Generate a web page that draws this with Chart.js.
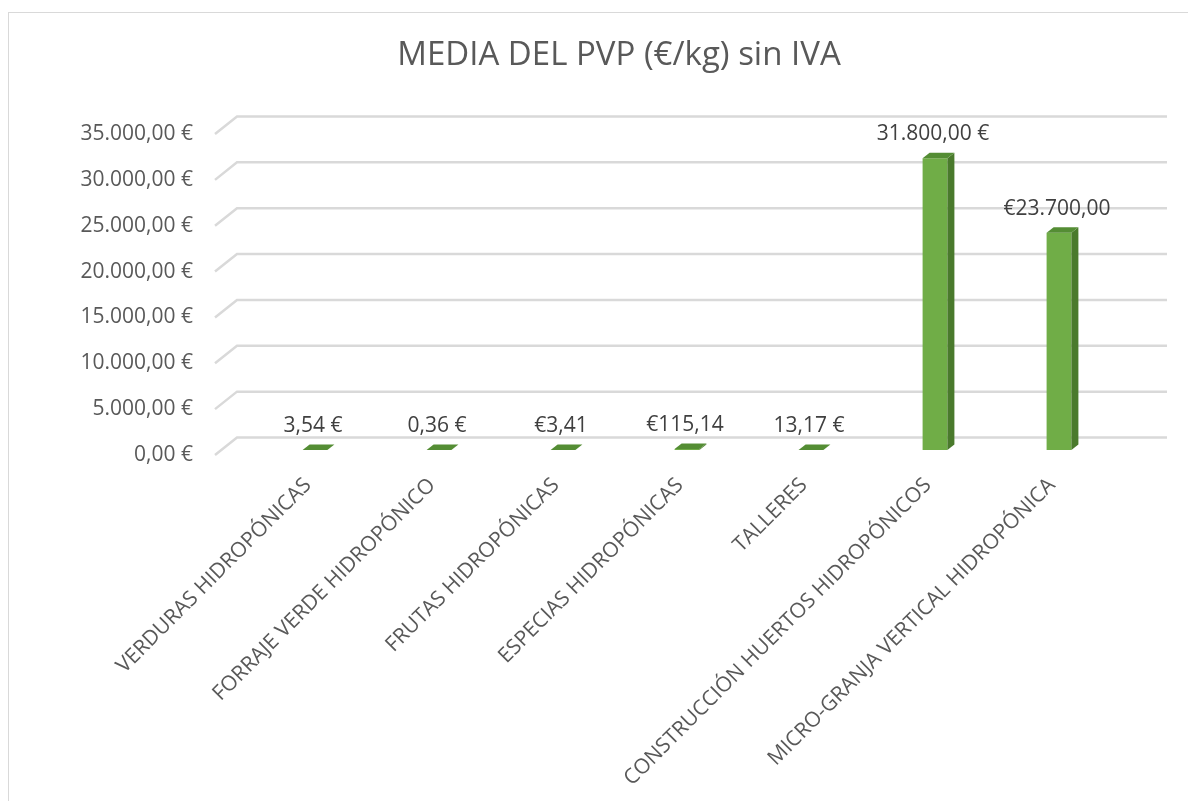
<!DOCTYPE html>
<html lang="es">
<head>
<meta charset="UTF-8">
<title>MEDIA DEL PVP (€/kg) sin IVA</title>
<style>
  body { margin: 0; background: #fff; }
  #marco { position: absolute; left: 8px; top: 12px; width: 1200px; height: 800px; border: 1px solid #d9d9d9; }
  #caja { position: absolute; left: 0; top: 0; width: 1188px; height: 801px; }
</style>
</head>
<body>
<div id="marco"></div>
<div id="caja"><canvas id="grafico"></canvas></div>

<script src="https://cdn.jsdelivr.net/npm/chart.js"></script>
<script>
// datos del gráfico
const categorias = ['VERDURAS HIDROPÓNICAS', 'FORRAJE VERDE HIDROPÓNICO', 'FRUTAS HIDROPÓNICAS',
  'ESPECIAS HIDROPÓNICAS', 'TALLERES', 'CONSTRUCCIÓN HUERTOS HIDROPÓNICOS', 'MICRO-GRANJA VERTICAL HIDROPÓNICA']
const valores = [3.54, 0.36, 3.41, 115.14, 13.17, 31800, 23700]
const etiquetasValor = ['3,54 €', '0,36 €', '€3,41', '€115,14', '13,17 €', '31.800,00 €', '€23.700,00']
const ticksY = ['0,00 €', '5.000,00 €', '10.000,00 €', '15.000,00 €', '20.000,00 €', '25.000,00 €', '30.000,00 €', '35.000,00 €']
const titulo = 'MEDIA DEL PVP (€/kg) sin IVA'

const gris = '#595959'
const fuente = '"Open Sans", sans-serif'
const prof = { x: 7, y: 5.5 }   // profundidad de las barras
const fondo = { x: 22, y: 17.5 } // profundidad de la pared
const desp = -5                  // barras un poco hacia atrás

// titulo + rejilla en "3D" + caras de las barras
const pared = {
  id: 'pared',
  beforeDatasetsDraw(chart) {
    const { ctx, scales } = chart
    ctx.save()
    ctx.fillStyle = gris
    ctx.font = '33px ' + fuente
    ctx.textAlign = 'center'
    ctx.textBaseline = 'middle'
    ctx.fillText(titulo, 619, 56)

    ctx.strokeStyle = '#d9d9d9'
    ctx.lineWidth = 2.5
    const x0 = 215
    scales.y.ticks.forEach(t => {
      const y = scales.y.getPixelForValue(t.value)
      ctx.beginPath()
      ctx.moveTo(x0, y)
      ctx.lineTo(x0 + fondo.x, y - fondo.y)
      ctx.lineTo(1167, y - fondo.y)
      ctx.stroke()
    })
    ctx.restore()
    ctx.save()
    ctx.translate(0, desp)
  },
  afterDatasetsDraw(chart) {
    const { ctx } = chart
    ctx.restore()
    ctx.save()
    const meta = chart.getDatasetMeta(0)
    meta.data.forEach((bar, i) => {
      const izq = bar.x - bar.width / 2
      const der = bar.x + bar.width / 2
      const arriba = bar.y + desp
      const abajo = bar.base + desp
      // lateral
      ctx.fillStyle = '#4a7a2c'
      ctx.beginPath()
      ctx.moveTo(der, arriba)
      ctx.lineTo(der + prof.x, arriba - prof.y)
      ctx.lineTo(der + prof.x, abajo - prof.y)
      ctx.lineTo(der, abajo)
      ctx.closePath()
      ctx.fill()
      // tapa
      ctx.fillStyle = '#548d34'
      ctx.beginPath()
      ctx.moveTo(izq, arriba)
      ctx.lineTo(izq + prof.x, arriba - prof.y)
      ctx.lineTo(der + prof.x, arriba - prof.y)
      ctx.lineTo(der, arriba)
      ctx.closePath()
      ctx.fill()
      // etiqueta de valor
      ctx.fillStyle = '#404040'
      ctx.font = '21px ' + fuente
      ctx.textAlign = 'center'
      ctx.textBaseline = 'middle'
      ctx.fillText(etiquetasValor[i], bar.x - 2, arriba - 24)
    })
    ctx.restore()
  }
}

const ctx = document.getElementById('grafico')
new Chart(ctx, {
  type: 'bar',
  data: {
    labels: categorias,
    datasets: [{
      data: valores,
      backgroundColor: '#70ad47',
      borderWidth: 0,
      barPercentage: 0.2,
      categoryPercentage: 1
    }]
  },
  plugins: [pared],
  options: {
    responsive: true,
    maintainAspectRatio: false,
    animation: false,
    layout: { padding: { top: 134, right: 67, bottom: 0, left: 0 } },
    plugins: {
      legend: { display: false },
      tooltip: { enabled: false }
    },
    scales: {
      x: {
        grid: { display: false, drawTicks: false },
        border: { display: false },
        afterFit(s) { s.height = 346 },
        ticks: {
          color: gris,
          font: { family: fuente, size: 21 },
          minRotation: 45,
          maxRotation: 45,
          padding: 18,
          labelOffset: -7,
          autoSkip: false
        }
      },
      y: {
        min: 0,
        max: 35000,
        grid: { display: false, drawTicks: false },
        border: { display: false },
        afterFit(s) { s.width = 253 },
        ticks: {
          stepSize: 5000,
          color: gris,
          font: { family: fuente, size: 21 },
          padding: 60,
          callback: (v, i) => ticksY[i]
        }
      }
    }
  }
})
</script>
</body>
</html>
